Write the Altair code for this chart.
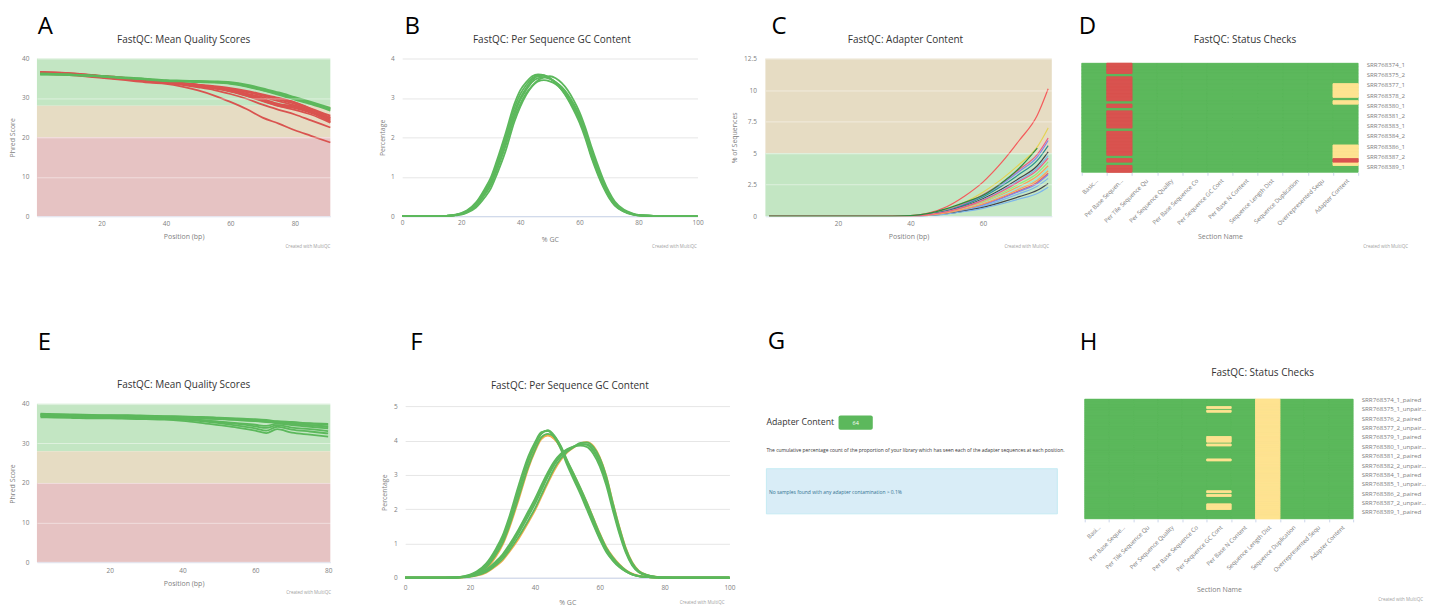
import altair as alt
import pandas as pd

FONT = "Open Sans"
PASS, WARN, FAIL = "#5cb85c", "#f0ad4e", "#d9534f"
HEAT_WARN = "#fee391"
STATUS = ["pass", "warn", "fail"]
BAND_GOOD, BAND_WARN, BAND_BAD = "#c3e6c3", "#e6dcc3", "#e6c3c3"
GREY = "#808080"
ONE = pd.DataFrame({"k": [0]})

# ---------------- Panel A : mean quality (run 1) ----------------
A_POS = [1, 5, 10, 15, 20, 25, 30, 35, 40, 45, 50, 55, 60, 65, 70, 75, 80, 85, 91]
A_PASS = [
    [36.0, 36.0, 35.9, 35.7, 35.5, 35.2, 35.0, 34.7, 34.4, 34.3, 34.2, 34.1, 33.8, 33.1, 32.1, 31.1, 29.9, 28.7, 27.1],
    [36.2, 36.1, 36.0, 35.8, 35.6, 35.3, 35.1, 34.8, 34.5, 34.4, 34.3, 34.2, 34.0, 33.4, 32.4, 31.4, 30.2, 29.0, 27.5],
    [35.9, 35.9, 35.8, 35.6, 35.4, 35.1, 34.9, 34.6, 34.3, 34.2, 34.0, 33.9, 33.6, 32.9, 31.9, 30.8, 29.6, 28.4, 26.8],
    [36.1, 36.0, 35.9, 35.7, 35.5, 35.2, 35.0, 34.7, 34.4, 34.3, 34.1, 34.0, 33.7, 33.0, 32.0, 31.0, 29.8, 28.6, 27.3],
]
A_FAIL = [
    [36.4, 36.3, 36.1, 35.8, 35.5, 35.1, 34.8, 34.5, 34.1, 33.8, 33.4, 33.0, 32.5, 31.8, 30.9, 30.0, 28.9, 27.3, 25.5],
    [36.5, 36.4, 36.2, 35.9, 35.6, 35.2, 34.9, 34.5, 34.1, 33.7, 33.2, 32.8, 32.2, 31.5, 30.6, 29.6, 28.5, 26.9, 25.1],
    [36.3, 36.2, 36.0, 35.7, 35.4, 35.0, 34.7, 34.3, 33.9, 33.5, 33.0, 32.5, 31.9, 31.1, 30.2, 29.2, 28.1, 26.6, 24.7],
    [36.6, 36.5, 36.3, 36.0, 35.6, 35.3, 34.9, 34.6, 34.2, 33.8, 33.3, 32.8, 32.0, 31.0, 29.8, 28.5, 27.8, 26.5, 24.4],
    [36.4, 36.3, 36.1, 35.8, 35.5, 35.1, 34.8, 34.4, 34.0, 33.6, 33.1, 32.5, 31.7, 30.6, 29.3, 28.0, 27.4, 26.2, 24.1],
    [36.5, 36.4, 36.2, 35.9, 35.5, 35.2, 34.8, 34.5, 34.1, 33.7, 33.2, 32.6, 31.8, 30.8, 29.5, 28.2, 27.6, 26.4, 23.9],
    [36.2, 36.1, 35.9, 35.6, 35.3, 35.0, 34.6, 34.3, 33.9, 33.5, 33.0, 32.4, 31.6, 30.5, 29.2, 27.9, 27.0, 25.8, 23.7],
    [36.3, 36.2, 36.0, 35.7, 35.4, 35.0, 34.7, 34.4, 34.0, 33.6, 33.2, 32.8, 32.3, 31.6, 30.7, 29.8, 28.8, 27.2, 24.9],
    [36.3, 36.2, 36.0, 35.7, 35.3, 34.9, 34.6, 34.2, 33.8, 33.3, 32.7, 32.0, 31.0, 29.8, 28.3, 27.0, 25.8, 24.3, 22.5],
    [36.1, 36.0, 35.8, 35.5, 35.1, 34.7, 34.3, 33.9, 33.6, 32.9, 31.9, 30.6, 29.0, 27.2, 25.0, 23.5, 21.8, 20.4, 18.7],
]

# ---------------- Panel E : mean quality (run 2) ----------------
E_POS = [1, 5, 10, 15, 20, 25, 30, 35, 40, 45, 50, 55, 60, 63, 66, 70, 75, 80]
E_PASS = [
    [37.4, 37.3, 37.2, 37.1, 37.0, 37.0, 36.9, 36.8, 36.7, 36.6, 36.4, 36.2, 35.9, 35.7, 35.5, 35.3, 35.0, 34.7],
    [37.2, 37.1, 37.0, 36.9, 36.9, 36.8, 36.7, 36.6, 36.5, 36.3, 36.1, 35.9, 35.6, 35.4, 35.2, 34.9, 34.6, 34.3],
    [37.0, 36.9, 36.8, 36.7, 36.7, 36.6, 36.5, 36.4, 36.2, 35.9, 35.5, 35.1, 34.7, 34.4, 35.0, 34.6, 34.2, 33.8],
    [36.8, 36.7, 36.6, 36.5, 36.5, 36.4, 36.3, 36.2, 36.0, 35.6, 35.1, 34.5, 33.8, 33.2, 34.2, 33.5, 33.0, 32.5],
    [36.6, 36.5, 36.4, 36.3, 36.3, 36.2, 36.1, 36.0, 35.7, 35.2, 34.6, 34.0, 33.2, 32.6, 33.6, 32.7, 32.2, 31.7],
    [37.5, 37.4, 37.3, 37.2, 37.1, 37.1, 37.0, 36.9, 36.8, 36.7, 36.5, 36.3, 36.1, 35.9, 35.6, 35.4, 35.1, 34.9],
    [36.9, 36.8, 36.7, 36.6, 36.6, 36.5, 36.4, 36.3, 36.1, 35.8, 35.4, 34.9, 34.3, 33.9, 34.6, 34.0, 33.6, 33.1],
    [37.3, 37.2, 37.1, 37.0, 37.0, 36.9, 36.8, 36.7, 36.6, 36.4, 36.2, 36.0, 35.7, 35.5, 35.3, 35.0, 34.6, 34.1],
]

# ---------------- Panels B / F : per sequence GC content ----------------
GC_POS = [0, 5, 10, 15, 18, 20, 22, 25, 28, 30, 32, 35, 38, 40, 42, 44, 46, 48, 50, 52, 54, 56, 58, 60,
          62, 64, 66, 68, 70, 72, 75, 78, 80, 85, 90, 95, 100]
B_PASS = [
    [0, 0, 0, 0.01, 0.03, 0.06, 0.12, 0.3, 0.6, 0.85, 1.25, 1.9, 2.65, 3.0, 3.25, 3.45, 3.55, 3.56, 3.5, 3.4, 3.25, 3.05, 2.8, 2.5, 2.1, 1.6, 1.2, 0.82, 0.52, 0.3, 0.13, 0.05, 0.02, 0.01, 0, 0, 0],
    [0, 0, 0, 0.01, 0.04, 0.08, 0.15, 0.35, 0.7, 0.98, 1.4, 2.1, 2.85, 3.2, 3.4, 3.55, 3.6, 3.58, 3.5, 3.38, 3.2, 2.98, 2.7, 2.38, 1.98, 1.5, 1.1, 0.75, 0.47, 0.27, 0.12, 0.04, 0.02, 0, 0, 0, 0],
    [0, 0, 0, 0.01, 0.03, 0.05, 0.1, 0.26, 0.55, 0.78, 1.15, 1.78, 2.5, 2.85, 3.12, 3.3, 3.42, 3.45, 3.42, 3.35, 3.22, 3.05, 2.82, 2.55, 2.18, 1.7, 1.28, 0.88, 0.56, 0.33, 0.15, 0.06, 0.03, 0.01, 0, 0, 0],
    [0, 0, 0, 0, 0.02, 0.04, 0.09, 0.22, 0.48, 0.7, 1.05, 1.65, 2.4, 2.78, 3.08, 3.3, 3.45, 3.52, 3.55, 3.5, 3.38, 3.2, 2.95, 2.65, 2.25, 1.78, 1.35, 0.95, 0.62, 0.37, 0.17, 0.07, 0.03, 0.01, 0, 0, 0],
    [0, 0, 0, 0.01, 0.03, 0.07, 0.13, 0.32, 0.65, 0.9, 1.32, 2.0, 2.75, 3.1, 3.33, 3.5, 3.58, 3.57, 3.5, 3.38, 3.22, 3.0, 2.74, 2.44, 2.04, 1.55, 1.15, 0.78, 0.5, 0.28, 0.12, 0.05, 0.02, 0, 0, 0, 0],
    [0, 0, 0, 0.01, 0.03, 0.06, 0.11, 0.28, 0.58, 0.82, 1.2, 1.85, 2.58, 2.95, 3.2, 3.4, 3.5, 3.52, 3.48, 3.4, 3.28, 3.1, 2.86, 2.57, 2.16, 1.66, 1.25, 0.86, 0.55, 0.32, 0.14, 0.05, 0.02, 0.01, 0, 0, 0],
]
F_PASS = [
    [0, 0, 0, 0.01, 0.03, 0.07, 0.15, 0.35, 0.75, 1.1, 1.6, 2.5, 3.4, 3.85, 4.2, 4.3, 4.1, 3.8, 3.35, 2.95, 2.55, 2.1, 1.65, 1.2, 0.82, 0.55, 0.35, 0.2, 0.1, 0.05, 0.02, 0.01, 0, 0, 0, 0, 0],
    [0, 0, 0, 0.01, 0.04, 0.09, 0.18, 0.42, 0.85, 1.22, 1.75, 2.7, 3.55, 3.95, 4.25, 4.28, 4.1, 3.75, 3.28, 2.86, 2.45, 2.0, 1.55, 1.12, 0.75, 0.5, 0.31, 0.18, 0.09, 0.04, 0.02, 0, 0, 0, 0, 0, 0],
    [0, 0, 0, 0.01, 0.03, 0.06, 0.13, 0.3, 0.68, 1.0, 1.48, 2.35, 3.25, 3.72, 4.1, 4.2, 4.12, 3.85, 3.42, 3.03, 2.63, 2.2, 1.74, 1.28, 0.88, 0.6, 0.38, 0.22, 0.11, 0.05, 0.02, 0.01, 0, 0, 0, 0, 0],
    [0, 0, 0, 0.01, 0.03, 0.08, 0.16, 0.38, 0.8, 1.15, 1.66, 2.58, 3.45, 3.88, 4.22, 4.3, 4.15, 3.82, 3.36, 2.94, 2.52, 2.06, 1.6, 1.16, 0.79, 0.52, 0.33, 0.19, 0.1, 0.05, 0.02, 0, 0, 0, 0, 0, 0],
    [0, 0, 0, 0, 0.02, 0.04, 0.08, 0.2, 0.42, 0.6, 0.85, 1.3, 1.8, 2.15, 2.55, 2.95, 3.3, 3.55, 3.72, 3.82, 3.9, 3.9, 3.75, 3.4, 2.85, 2.1, 1.4, 0.8, 0.4, 0.18, 0.06, 0.02, 0.01, 0, 0, 0, 0],
    [0, 0, 0, 0, 0.02, 0.05, 0.1, 0.24, 0.48, 0.68, 0.95, 1.42, 1.95, 2.3, 2.7, 3.08, 3.4, 3.62, 3.76, 3.83, 3.86, 3.82, 3.62, 3.25, 2.7, 1.98, 1.3, 0.74, 0.36, 0.16, 0.05, 0.02, 0, 0, 0, 0, 0],
    [0, 0, 0, 0, 0.01, 0.03, 0.07, 0.17, 0.37, 0.54, 0.78, 1.2, 1.68, 2.02, 2.42, 2.82, 3.2, 3.48, 3.68, 3.82, 3.94, 3.95, 3.82, 3.5, 2.96, 2.2, 1.48, 0.86, 0.44, 0.2, 0.07, 0.02, 0.01, 0, 0, 0, 0],
    [0, 0, 0, 0, 0.02, 0.04, 0.09, 0.22, 0.45, 0.64, 0.9, 1.36, 1.88, 2.22, 2.62, 3.0, 3.34, 3.58, 3.74, 3.84, 3.9, 3.88, 3.7, 3.34, 2.8, 2.06, 1.36, 0.78, 0.38, 0.17, 0.06, 0.02, 0, 0, 0, 0, 0],
]
F_WARN = [
    [0, 0, 0, 0, 0.02, 0.05, 0.11, 0.27, 0.62, 0.95, 1.42, 2.28, 3.2, 3.68, 4.05, 4.15, 4.05, 3.8, 3.4, 3.02, 2.62, 2.2, 1.75, 1.3, 0.9, 0.62, 0.4, 0.23, 0.12, 0.06, 0.02, 0.01, 0, 0, 0, 0, 0],
    [0, 0, 0, 0, 0.02, 0.05, 0.12, 0.3, 0.66, 1.0, 1.5, 2.38, 3.3, 3.76, 4.1, 4.18, 4.06, 3.78, 3.36, 2.97, 2.58, 2.15, 1.7, 1.25, 0.86, 0.58, 0.37, 0.21, 0.11, 0.05, 0.02, 0, 0, 0, 0, 0, 0],
    [0, 0, 0, 0, 0.01, 0.03, 0.06, 0.15, 0.34, 0.5, 0.74, 1.14, 1.62, 1.96, 2.36, 2.76, 3.14, 3.44, 3.66, 3.8, 3.92, 3.96, 3.85, 3.52, 2.98, 2.22, 1.5, 0.88, 0.45, 0.21, 0.07, 0.02, 0.01, 0, 0, 0, 0],
]

# ---------------- Panel C : adapter content ----------------
C_POS = [1, 10, 20, 30, 40, 45, 50, 55, 60, 65, 70, 75, 78]
C_SERIES = [
    [0, 0, 0, 0, 0.05, 0.25, 0.75, 1.6, 2.7, 4.2, 6.0, 8.0, 10.1],
    [0, 0, 0, 0, 0.03, 0.18, 0.52, 1.1, 1.9, 2.9, 4.1, 5.5, 7.0],
    [0, 0, 0, 0, 0.03, 0.15, 0.46, 1.0, 1.7, 2.6, 3.7, 4.9, 6.2],
    [0, 0, 0, 0, 0.03, 0.15, 0.45, 0.95, 1.62, 2.5, 3.55, 4.7, 6.0],
    [0, 0, 0, 0, 0.03, 0.14, 0.42, 0.9, 1.52, 2.35, 3.32, 4.42, 5.6],
    [0, 0, 0, 0, 0.02, 0.13, 0.38, 0.8, 1.38, 2.12, 3.0, 4.0, 5.1],
    [0, 0, 0, 0, 0.02, 0.12, 0.36, 0.76, 1.3, 2.0, 2.85, 3.8, 4.8],
    [0, 0, 0, 0, 0.02, 0.11, 0.32, 0.7, 1.15, 1.8, 2.55, 3.4, 4.3],
    [0, 0, 0, 0, 0.02, 0.1, 0.3, 0.64, 1.08, 1.68, 2.38, 3.18, 4.0],
    [0, 0, 0, 0, 0.02, 0.1, 0.29, 0.6, 1.02, 1.6, 2.25, 3.0, 3.8],
    [0, 0, 0, 0, 0.02, 0.09, 0.26, 0.55, 0.92, 1.44, 2.03, 2.7, 3.4],
    [0, 0, 0, 0, 0.02, 0.08, 0.25, 0.52, 0.88, 1.38, 1.96, 2.6, 3.3],
    [0, 0, 0, 0, 0.01, 0.07, 0.22, 0.47, 0.8, 1.25, 1.78, 2.38, 3.0],
    [0, 0, 0, 0, 0.01, 0.07, 0.2, 0.42, 0.7, 1.1, 1.55, 2.05, 2.6],
    [0, 0, 0, 0, 0.01, 0.06, 0.17, 0.37, 0.62, 0.97, 1.36, 1.8, 2.3],
    [0, 0, 0, 0, 0.02, 0.09, 0.27, 0.58, 0.98, 1.52, 2.15, 2.85, 3.6],
    [0, 0, 0, 0, 0.02, 0.12, 0.35, 0.74, 1.25, 1.94, 2.75, 3.65, 4.6],
    [0, 0, 0, 0, 0.05, 0.22, 0.6, 1.1, 1.66, 2.6, 3.8, 5.4, None],
]
C_COLORS = ["#f45b5b", "#e4d354", "#f15c80", "#8085e9", "#2b908f", "#434348", "#7cb5ec", "#90ed7d",
            "#f7a35c", "#91e8e1", "#f45b5b", "#8085e9", "#7cb5ec", "#434348", "#7cb5ec", "#f7a35c",
            "#f15c80", "#2e8b3e"]

# ---------------- Panels D / H : status checks ----------------
ACCESSIONS = ["SRR7683%d" % n for n in [74, 75, 76, 77, 78, 79, 80, 81, 82, 83, 84, 85, 86, 87, 88, 89]]
D_SAMPLES = [f"{a}_{r}" for a in ACCESSIONS for r in ["1", "2"]]
H_SAMPLES = [f"{a}_{r}_{t}" for a in ACCESSIONS for r in ["1", "2"] for t in ["paired", "unpaired"]]
D_SECTIONS = ["Basic...", "Per Base Sequen...", "Per Tile Sequence Qu", "Per Sequence Quality",
              "Per Base Sequence Co", "Per Sequence GC Cont", "Per Base N Content",
              "Sequence Length Dist", "Sequence Duplication", "Overrepresented Sequ", "Adapter Content"]
H_SECTIONS = ["Basi...", "Per Base Seque...", "Per Tile Sequence Qu", "Per Sequence Quality",
              "Per Base Sequence Co", "Per Sequence GC Cont", "Per Base N Content",
              "Sequence Length Dist", "Sequence Duplication", "Overrepresented Sequ", "Adapter Content"]
D_PBSQ_PASS_ROWS = [3, 11, 13, 19, 27, 29]          # column 1, all other rows fail
D_ADAPTER_WARN_ROWS = [6, 7, 8, 9, 11, 24, 25, 26, 27, 29]
D_ADAPTER_FAIL_ROWS = [28]
H_GC_WARN_ROWS = [4, 6, 20, 21, 22, 24, 32, 49, 51, 56, 57, 58]   # column 5
H_SLD_WARN_ALL = True                                              # column 7


def series_df(pos, groups):
    rows = []
    n = 0
    for status, lists in groups:
        for vals in lists:
            n += 1
            for p, v in zip(pos, vals):
                if v is not None:
                    rows.append({"pos": p, "val": v, "status": status, "sample": f"s{n:02d}"})
    return pd.DataFrame(rows)


def heat_df(samples, sections, cells):
    rows = []
    for i, s in enumerate(samples):
        for j, sec in enumerate(sections):
            rows.append({"sample": s, "section": sec, "status": cells.get((i, j), "pass")})
    return pd.DataFrame(rows)


def txt(s, x, y, size, color="#333333", align="left", baseline="middle", font=FONT):
    return alt.Chart(ONE).mark_text(text=s, fontSize=size, color=color, align=align,
                                    baseline=baseline, font=font).encode(x=alt.value(x), y=alt.value(y))


def letter(s, x, y):
    return txt(s, x, y, 24, color="#000000", baseline="alphabetic")


def title(s, x, y):
    return txt(s, x, y, 10, color="#333333", align="center")


def credit(x, y):
    return txt("Created with MultiQC", x, y, 4.5, color="#a0a0a0", align="right")


def xaxis(ttl, values, pad, ty):
    return alt.Axis(title=ttl, values=values, grid=False, ticks=False, tickSize=0,
                    domainColor="#ccd6eb", labelPadding=pad, labelFlush=False, labelColor=GREY,
                    titleColor=GREY, titleY=ty, titleBaseline="middle")


def yaxis(ttl, values, pad, tx, ty, gridcol, z, fmt="", gop=1.0):
    kw = dict(title=ttl, values=values, grid=True, gridColor=gridcol, gridOpacity=gop, ticks=False,
              tickSize=0, domain=False, labelPadding=pad, titleX=tx, titleY=ty, titleBaseline="middle",
              titleAlign="center", zindex=z, labelColor=GREY, titleColor=GREY)
    if fmt:
        kw["format"] = fmt
    return alt.Axis(**kw)


def band_layers(bands, w, ydom, yax):
    out = []
    for lo, hi, col in bands:
        out.append(alt.Chart(pd.DataFrame({"lo": [lo], "hi": [hi]})).mark_rect(color=col).encode(
            x=alt.value(0), x2=alt.value(w),
            y=alt.Y("lo:Q", scale=alt.Scale(domain=ydom, nice=False, zero=False), axis=yax),
            y2="hi:Q"))
    return out


def status_lines(df, xdom, ydom, xax, yax, sw):
    return alt.Chart(df).mark_line(strokeWidth=sw, interpolate="monotone").encode(
        x=alt.X("pos:Q", scale=alt.Scale(domain=xdom, nice=False, zero=False), axis=xax),
        y=alt.Y("val:Q", scale=alt.Scale(domain=ydom, nice=False, zero=False), axis=yax),
        stroke=alt.Stroke("status:N", scale=alt.Scale(domain=STATUS, range=[PASS, WARN, FAIL]), legend=None),
        detail="sample:N")


QBANDS = [(28, 40, BAND_GOOD), (20, 28, BAND_WARN), (0, 20, BAND_BAD)]
CBANDS = [(5, 12.5, BAND_WARN), (0, 5, BAND_GOOD)]

# ---- A
AW, AH = 294, 158
pin = alt.Chart(ONE).mark_rect(color="white").encode(
    x=alt.value(-28.7), x2=alt.value(-27.7), y=alt.value(-50), y2=alt.value(-49))
a_y = yaxis("Phred Score", [0, 10, 20, 30, 40], 8, -24.3, 79, "#ffffff", 1, gop=0.45)
panelA = alt.layer(
    pin, *band_layers(QBANDS, AW, [0, 40], a_y),
    status_lines(series_df(A_POS, [("fail", A_FAIL), ("pass", A_PASS)]), [0, 91], [0, 40],
                 xaxis("Position (bp)", [20, 40, 60, 80], 4, 20.7), a_y, 1.8),
    letter("A", 0.7, -25), title("FastQC: Mean Quality Scores", 147, -19),
    credit(AW, 188.7),
).properties(width=AW, height=AH)

# ---- B
BW, BH = 296, 158
panelB = alt.layer(
    status_lines(series_df(GC_POS, [("pass", B_PASS)]), [0, 100], [0, 4],
                 xaxis("% GC", [0, 20, 40, 60, 80, 100], 3, 23.3),
                 yaxis("Percentage", [0, 1, 2, 3, 4], 8, -20, 79, "#e6e6e6", 0), 1.8),
    letter("B", 2.3, -25), title("FastQC: Per Sequence GC Content", 150, -19),
    credit(295.3, 188.7),
).properties(width=BW, height=BH)

# ---- C
CW, CH = 287, 158
c_rows = []
for i, vals in enumerate(C_SERIES):
    for p, v in zip(C_POS, vals):
        if v is not None:
            c_rows.append({"pos": p, "val": v, "sample": f"s{i:02d}"})
c_df = pd.DataFrame(c_rows)
C_NAMES = [f"s{i:02d}" for i in range(len(C_SERIES))]
c_y = yaxis("% of Sequences", [0, 2.5, 5, 7.5, 10, 12.5], 9, -30.6, 79, "#ffffff", 1, ".3~g", gop=0.45)
c_lines = alt.Chart(c_df).mark_line(strokeWidth=1.2, interpolate="monotone").encode(
    x=alt.X("pos:Q", scale=alt.Scale(domain=[0, 79], nice=False, zero=False),
            axis=xaxis("Position (bp)", [20, 40, 60], 4, 20.7)),
    y=alt.Y("val:Q", scale=alt.Scale(domain=[0, 12.5], nice=False, zero=False), axis=c_y),
    color=alt.Color("sample:N", scale=alt.Scale(domain=C_NAMES, range=C_COLORS), legend=None),
)
panelC = alt.layer(
    *band_layers(CBANDS, CW, [0, 12.5], c_y), c_lines,
    letter("C", 6, -25), title("FastQC: Adapter Content", 140.4, -19),
    credit(284.4, 188.7),
).properties(width=CW, height=CH)


# ---- heatmaps
def heat_layers(df, samples, sections, w, h, top, pad_outer, label_values, title_y, limit):
    xenc = alt.X("section:N", sort=sections,
                 scale=alt.Scale(domain=sections, paddingInner=0, paddingOuter=0),
                 axis=alt.Axis(title="Section Name", labelAngle=-45, labelFontSize=6, tickBand="extent",
                               tickSize=3, tickColor="#ccd6eb", domain=False, labelPadding=2,
                               titleY=title_y, titleBaseline="middle", labelOverlap=False,
                               labelColor=GREY, titleColor=GREY))
    yenc = alt.Y("sample:N", sort=samples,
                 scale=alt.Scale(domain=samples, paddingInner=0, paddingOuter=pad_outer, align=1),
                 axis=alt.Axis(orient="right", title=None, values=label_values, ticks=False, domain=False,
                               labelPadding=8, labelFontSize=6.2, labelLimit=limit, labelColor=GREY))
    out = [alt.Chart(ONE).mark_rect(color=PASS).encode(
        x=alt.value(0), x2=alt.value(w), y=alt.value(top), y2=alt.value(h))]
    # pass cells once; warn / fail cells twice so that seams between equal cells close up
    for s, col, reps in zip(STATUS, [PASS, HEAT_WARN, FAIL], [1, 2, 2]):
        for _ in range(reps):
            out.append(alt.Chart(df).transform_filter(alt.datum.status == s).mark_rect(
                color=col, stroke=col, strokeWidth=0.6).encode(x=xenc, y=yenc))
    return out


d_cells = {}
for i in range(len(D_SAMPLES)):
    if i not in D_PBSQ_PASS_ROWS:
        d_cells[(i, 1)] = "fail"
for r in D_ADAPTER_WARN_ROWS:
    d_cells[(r, 10)] = "warn"
for r in D_ADAPTER_FAIL_ROWS:
    d_cells[(r, 10)] = "fail"
DW, DH = 277, 114
panelD = alt.layer(
    *heat_layers(heat_df(D_SAMPLES, D_SECTIONS, d_cells), D_SAMPLES, D_SECTIONS,
                 DW, DH, 4.7, 0.688, D_SAMPLES[::3], 64.7, 120),
    letter("D", -3, -25), title("FastQC: Status Checks", 163.7, -19),
    credit(327, 188.7),
).properties(width=DW, height=DH)

h_cells = {}
for r in H_GC_WARN_ROWS:
    h_cells[(r, 5)] = "warn"
if H_SLD_WARN_ALL:
    for i in range(len(H_SAMPLES)):
        h_cells[(i, 7)] = "warn"
HW, HH = 269, 120
panelH = alt.layer(
    *heat_layers(heat_df(H_SAMPLES, H_SECTIONS, h_cells), H_SAMPLES, H_SECTIONS,
                 HW, HH, 0, 0, H_SAMPLES[::5], 70.7, 66),
    letter("H", -5, -49.7), title("FastQC: Status Checks", 178.3, -26),
    credit(339, 201),
).properties(width=HW, height=HH)

# ---- E
EW, EH = 294, 163.4
e_y = yaxis("Phred Score", [0, 10, 20, 30, 40], 8, -24.7, 84.5, "#ffffff", 1, gop=0.45)
panelE = alt.layer(
    *band_layers(QBANDS, EW, [0, 41.18], e_y),
    status_lines(series_df(E_POS, [("pass", E_PASS)]), [0, 80.6], [0, 41.18],
                 xaxis("Position (bp)", [20, 40, 60, 80], 5, 21), e_y, 1.8),
    letter("E", 0.7, -49.3), title("FastQC: Mean Quality Scores", 147, -14.3),
    credit(294.7, 194.3),
).properties(width=EW, height=EH)

# ---- F (warn lines drawn first so the green bundle sits on top)
FW, FH = 325, 179
panelF = alt.layer(
    status_lines(series_df(GC_POS, [("warn", F_WARN), ("pass", F_PASS)]), [0, 100], [0, 5.216],
                 xaxis("% GC", [0, 20, 40, 60, 80, 100], 7, 24.4),
                 yaxis("Percentage", [0, 1, 2, 3, 4, 5], 8, -21, 93.3, "#e6e6e6", 0), 1.8),
    letter("F", 5, -49.3), title("FastQC: Per Sequence GC Content", 165, -13.6),
    credit(320, 204),
).properties(width=FW, height=FH)

# ---- G (text panel)
GW, GH = 291.6, 120
panelG = alt.layer(
    letter("G", 1.3, -50.7),
    txt("Adapter Content", 0, 23, 8.8, color="#333333"),
    alt.Chart(ONE).mark_rect(color=PASS, cornerRadius=2).encode(
        x=alt.value(72.3), x2=alt.value(106.6), y=alt.value(16.4), y2=alt.value(30.7)),
    txt("64", 89.5, 23.5, 5.5, color="#ffffff", align="center"),
    txt("The cumulative percentage count of the proportion of your library which has seen each of the "
        "adapter sequences at each position.", 0, 52, 4.95, color="#333333"),
    alt.Chart(ONE).mark_rect(color="#d9edf7", stroke="#bce8f1", strokeWidth=0.8).encode(
        x=alt.value(0), x2=alt.value(GW), y=alt.value(69.7), y2=alt.value(115)),
    txt("No samples found with any adapter contamination > 0.1%", 2.6, 94, 4.95, color="#31708f"),
).properties(width=GW, height=GH)


def spacer(w):
    return alt.Chart(ONE).mark_point(opacity=0).encode(x=alt.value(0), y=alt.value(0)).properties(
        width=w, height=1)


row1 = alt.hconcat(panelA, spacer(72), panelB, spacer(67.6), panelC, spacer(29.7), panelD,
                   spacing=0, bounds="flush")
row2 = alt.hconcat(panelE, spacer(74.3), panelF, spacer(36.7), panelG, spacer(26.7), panelH,
                   spacing=0, bounds="flush")

chart = alt.vconcat(row1, row2, spacing=341.3, bounds="flush").properties(
    padding=0, background="white"
).configure_view(strokeWidth=0).configure_axis(
    labelFont=FONT, labelFontSize=6.5, labelColor=GREY,
    titleFont=FONT, titleFontSize=7, titleColor=GREY, titleFontWeight="normal",
)

chart.save("out.html", embed_options={"renderer": "svg", "actions": False})
